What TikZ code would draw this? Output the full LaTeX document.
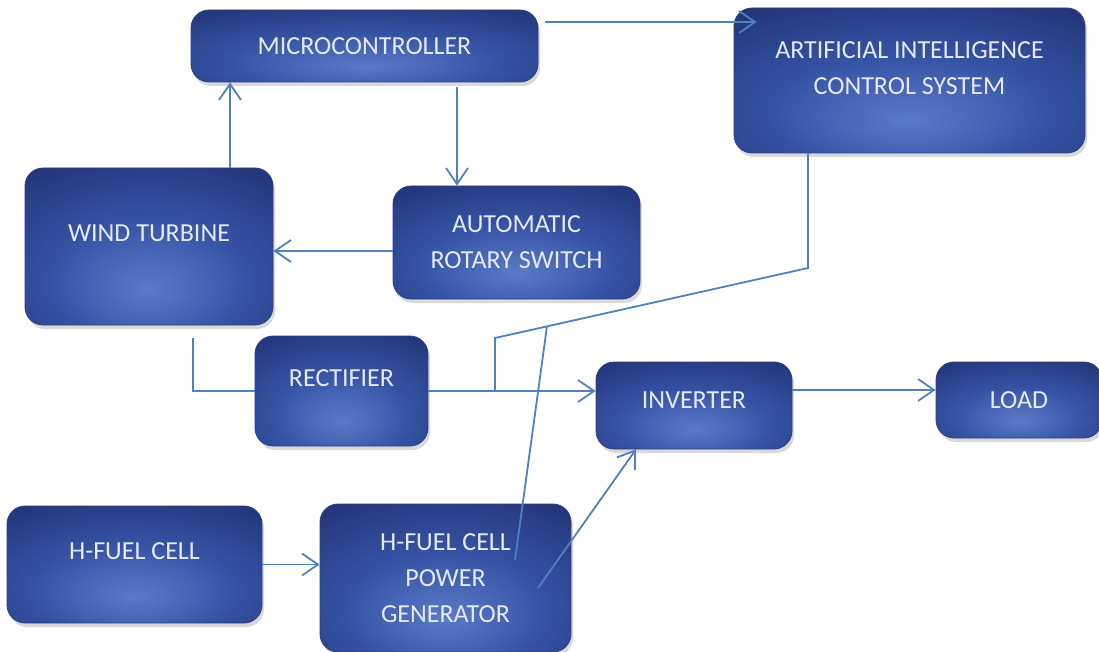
\documentclass[tikz,border=0pt]{standalone}
\usepackage{fontspec}
\setmainfont{Carlito}
\usetikzlibrary{arrows.meta,shadows,calc}
\definecolor{boxdark}{HTML}{1C2A6A}
\definecolor{boxmid}{HTML}{3553A3}
\definecolor{boxlight}{HTML}{5A7BC8}
\definecolor{boxrim}{HTML}{2C3F86}
\definecolor{linkblue}{HTML}{4F81BD}
\definecolor{boxtext}{HTML}{E4EAF6}
\pgfdeclareradialshading{boxglow}{\pgfpoint{0bp}{-14bp}}{color(0bp)=(boxlight); color(20bp)=(boxmid); color(48bp)=(boxdark); color(100bp)=(boxdark)}
\begin{document}
\begin{tikzpicture}[x=1pt,y=-1pt,
  block/.style={draw=boxrim,line width=0.8pt,rounded corners=18pt,shading=boxglow,
    drop shadow={shadow xshift=2pt,shadow yshift=-4pt,opacity=0.3},
    text=boxtext,align=center,font=\fontsize{26}{36}\selectfont,inner sep=0pt},
  link/.style={draw=linkblue,line width=1.8pt},
  arrowlink/.style={link,-{Straight Barb[length=16pt,width=22pt]}}]
\useasboundingbox (0,0) rectangle (1099,652);
\node[block,minimum width=347pt,minimum height=72pt] (mc) at (364.5,46) {MICROCONTROLLER};
\node[block,minimum width=351pt,minimum height=145pt,text depth=24pt] (ai) at (909.5,80.5) {ARTIFICIAL INTELLIGENCE\\CONTROL SYSTEM};
\node[block,minimum width=248pt,minimum height=157pt,text depth=26pt] (wt) at (149,246.5) {WIND TURBINE};
\node[block,minimum width=247pt,minimum height=113pt] (ars) at (516.5,242.5) {AUTOMATIC\\ROTARY SWITCH};
\node[block,minimum width=173pt,minimum height=110pt,text depth=26pt] (rec) at (341.5,391) {RECTIFIER};
\node[block,minimum width=196pt,minimum height=87pt,text depth=10pt] (inv) at (694,405.5) {INVERTER};
\node[block,minimum width=166pt,minimum height=76pt] (load) at (1019,400) {LOAD};
\node[block,minimum width=255pt,minimum height=117pt,text depth=26pt] (hfc) at (134.5,564.5) {H-FUEL CELL};
\node[block,minimum width=251pt,minimum height=148pt] (gen) at (445.5,578) {H-FUEL CELL\\POWER\\GENERATOR};
\coordinate (wtout) at (193,338);
\coordinate (bend) at (808,268);
\coordinate (knee) at (495,338);
\coordinate (genin) at (515,560);
\coordinate (genout) at (538,588);
\draw[arrowlink] (wt.north -| 230,0) -- (mc.south -| 230,0);
\draw[arrowlink,shorten <=5pt] (mc.south -| 457,0) -- (ars.north -| 457,0);
\draw[arrowlink] (ars.west |- 0,251) -- (wt.east |- 0,251);
\draw[arrowlink,shorten <=7pt,shorten >=-23pt] (mc.east |- 0,22) -- (ai.west |- 0,22);
\draw[link] (wtout) |- (rec.west);
\draw[arrowlink] (rec.east) -- (inv.west |- rec.east);
\draw[link] (ai.south -| bend) -- (bend) -- (knee) -- (knee |- rec.east);
\draw[link] (genin) -- ($(knee)!0.166!(bend)$);
\draw[arrowlink] (genout) -- (inv.south -| 636,0);
\draw[arrowlink] (inv.east |- 0,390) -- (load.west |- 0,390);
\draw[arrowlink] (hfc.east) -- (gen.west |- hfc.east);
\end{tikzpicture}
\end{document}
